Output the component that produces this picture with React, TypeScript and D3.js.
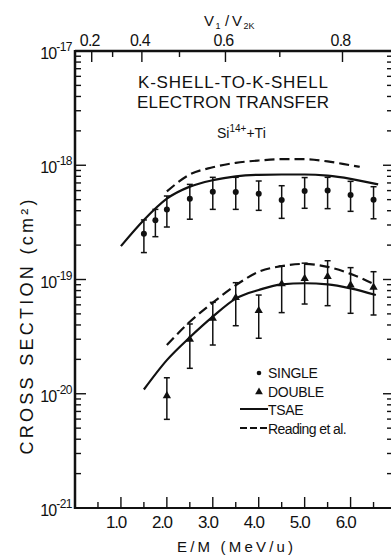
import React from "react";
import * as d3 from "d3";

// measured points, E/M in MeV/u and cross sections in cm^2
// single K-K transfer (circles)
const singleE = [1.5, 1.75, 2.0, 2.5, 3.0, 3.5, 4.0, 4.5, 5.0, 5.5, 6.0, 6.5];
const singleSigma = [2.52e-19, 3.3e-19, 4.1e-19, 5.1e-19, 5.87e-19, 5.83e-19, 5.64e-19, 4.97e-19, 5.96e-19, 6.0e-19, 5.5e-19, 5.0e-19];
const singleHi = [3.32e-19, 4.11e-19, 5.38e-19, 6.8e-19, 7.84e-19, 7.84e-19, 7.28e-19, 6.62e-19, 7.8e-19, 7.84e-19, 7.23e-19, 6.49e-19];
const singleLo = [1.72e-19, 2.37e-19, 2.88e-19, 3.37e-19, 4.11e-19, 4.11e-19, 4.03e-19, 3.43e-19, 4.2e-19, 4.17e-19, 3.95e-19, 3.4e-19];

// double K-K transfer (triangles)
const doubleE = [2.0, 2.5, 3.0, 3.5, 4.0, 4.5, 5.0, 5.5, 6.0, 6.5];
const doubleSigma = [9.6e-21, 2.99e-20, 4.56e-20, 6.93e-20, 5.33e-20, 9.14e-20, 1.02e-19, 1.06e-19, 8.95e-20, 8.54e-20];
const doubleHi = [1.38e-20, 4.08e-20, 6.31e-20, 9.38e-20, 7.31e-20, 1.31e-19, 1.39e-19, 1.46e-19, 1.27e-19, 1.17e-19];
const doubleLo = [5.97e-21, 1.67e-20, 2.67e-20, 3.94e-20, 3.06e-20, 5.13e-20, 6.1e-20, 5.9e-20, 5.06e-20, 4.89e-20];

// theory curves
const tsaeSingleE = [1.0, 1.5, 2.0, 2.5, 3.0, 3.5, 4.0, 4.5, 5.0, 5.5, 6.0, 6.6];
const tsaeSingleSigma = [1.96e-19, 3.32e-19, 5.1e-19, 6.5e-19, 7.4e-19, 8.0e-19, 8.25e-19, 8.3e-19, 8.3e-19, 8.1e-19, 7.6e-19, 6.8e-19];
const readingSingleE = [2.0, 2.5, 3.0, 3.5, 4.0, 4.5, 5.0, 5.5, 6.0, 6.2];
const readingSingleSigma = [5.9e-19, 8.3e-19, 9.6e-19, 1.05e-18, 1.1e-18, 1.13e-18, 1.13e-18, 1.08e-18, 1.0e-18, 9.7e-19];
const tsaeDoubleE = [1.5, 2.0, 2.5, 3.0, 3.5, 4.0, 4.5, 5.0, 5.5, 6.0, 6.55];
const tsaeDoubleSigma = [1.09e-20, 1.97e-20, 3.12e-20, 4.73e-20, 6.8e-20, 8.09e-20, 9.08e-20, 9.27e-20, 9.08e-20, 8.37e-20, 7.31e-20];
const readingDoubleE = [2.0, 2.5, 3.0, 3.5, 4.0, 4.5, 5.0, 5.5, 6.0, 6.55];
const readingDoubleSigma = [2.67e-20, 4.27e-20, 6.27e-20, 8.9e-20, 1.17e-19, 1.31e-19, 1.37e-19, 1.29e-19, 1.12e-19, 8.95e-20];

// ticks
const bottomMajor = [1, 2, 3, 4, 5, 6];
const bottomMinor = [0.5, 1.5, 2.5, 3.5, 4.5, 5.5, 6.5];
const bottomLabels = ["1.0", "2.0", "3.0", "4.0", "5.0", "6.0"];
const topMajor = [0.2, 0.4, 0.6, 0.8];
const topMinor = [0.3, 0.5, 0.7];
const topLabels = ["0.2", "0.4", "0.6", "0.8"];
const decadeExps = [-17, -18, -19, -20, -21];

const font = "'Liberation Sans', Arial, sans-serif";

export default function App() {
  const W = 391;
  const H = 556;
  const eMax = 6.88;
  // E/M (MeV/u) is about K * (v1/v2K)^2 for the top axis
  const K = 9.1;

  const x = d3.scaleLinear().domain([0, eMax]).range([75, 391]);
  const y = d3.scaleLog().domain([1e-21, 1e-17]).range([508, 51]);
  const xTop = d3.scalePow().exponent(2).domain([0, Math.sqrt(eMax / K)]).range([75, 391]);

  const [x0, x1] = x.range();
  const [yBot, yTop] = y.range();

  const line = d3
    .line<[number, number]>()
    .x((d) => x(d[0]))
    .y((d) => y(d[1]))
    .curve(d3.curveMonotoneX);

  const zip = (a: number[], b: number[]) => a.map((v, i) => [v, b[i]] as [number, number]);

  // minor ticks on the log axis
  const minorY: number[] = [];
  for (let e = -21; e < -17; e++) {
    for (let m = 2; m <= 9; m++) minorY.push(m * Math.pow(10, e));
  }

  const tri = d3.symbol(d3.symbolTriangle, 30)();
  const triSmall = d3.symbol(d3.symbolTriangle, 26)();

  const errorBar = (e: number, lo: number, hi: number, key: string) => (
    <g key={key} stroke="#111" strokeWidth={1.5}>
      <line x1={x(e)} x2={x(e)} y1={y(hi)} y2={y(lo)} />
      <line x1={x(e) - 3} x2={x(e) + 3} y1={y(hi)} y2={y(hi)} />
      <line x1={x(e) - 3} x2={x(e) + 3} y1={y(lo)} y2={y(lo)} />
    </g>
  );

  return (
    <svg width={W} height={H} style={{ position: "absolute", left: 0, top: 0, background: "#fff" }} fontFamily={font}>
      <rect width={W} height={H} fill="#fff" />

      {/* frame (right edge falls just outside the picture) */}
      <g stroke="#111" fill="none">
        <line x1={x0} x2={x0} y1={yTop - 1} y2={yBot + 1} strokeWidth={2.5} />
        <line x1={x0} x2={x1} y1={yBot} y2={yBot} strokeWidth={2} />
        <line x1={x0} x2={x1} y1={yTop} y2={yTop} strokeWidth={2.5} />
      </g>

      {/* left / right log ticks */}
      <g stroke="#111" strokeWidth={1.4}>
        {decadeExps.slice(1, -1).map((e) => (
          <g key={"d" + e}>
            <line x1={x0} x2={x0 + 11} y1={y(Math.pow(10, e))} y2={y(Math.pow(10, e))} />
            <line x1={x1} x2={x1 - 8} y1={y(Math.pow(10, e))} y2={y(Math.pow(10, e))} />
          </g>
        ))}
        {minorY.map((v, i) => (
          <g key={"m" + i}>
            <line x1={x0} x2={x0 + 6} y1={y(v)} y2={y(v)} />
            <line x1={x1} x2={x1 - 4} y1={y(v)} y2={y(v)} />
          </g>
        ))}
      </g>

      {/* bottom ticks */}
      <g stroke="#111" strokeWidth={1.4}>
        {bottomMajor.map((e) => (
          <line key={"bM" + e} x1={x(e)} x2={x(e)} y1={yBot} y2={yBot - 11} />
        ))}
        {bottomMinor.map((e) => (
          <line key={"bm" + e} x1={x(e)} x2={x(e)} y1={yBot} y2={yBot - 6} />
        ))}
      </g>
      <g fontSize={17} textAnchor="middle" letterSpacing={-1.3} fill="#111">
        {bottomMajor.map((e, i) => (
          <text key={"bl" + e} x={x(e) - 5} y={528}>
            {bottomLabels[i]}
          </text>
        ))}
      </g>
      <text x={235} y={552} fontSize={15} textAnchor="middle" textLength={116} lengthAdjust="spacing" fill="#111">
        E/M (MeV/u)
      </text>

      {/* top velocity axis */}
      <g stroke="#111" strokeWidth={1.4}>
        {topMajor.map((v) => (
          <line key={"tM" + v} x1={xTop(v)} x2={xTop(v)} y1={yTop} y2={yTop + 11} />
        ))}
        {topMinor.map((v) => (
          <line key={"tm" + v} x1={xTop(v)} x2={xTop(v)} y1={yTop} y2={yTop + 6} />
        ))}
      </g>
      <g fontSize={16} textAnchor="middle" letterSpacing={-0.8} fill="#111">
        {topMajor.map((v, i) => (
          <text key={"tl" + v} x={xTop(v) - 2} y={46}>
            {topLabels[i]}
          </text>
        ))}
      </g>
      <g fill="#111">
        <text x={204} y={25.5} fontSize={15}>V</text>
        <text x={215.5} y={29} fontSize={9}>1</text>
        <text x={225} y={25.5} fontSize={15}>/</text>
        <text x={232} y={25.5} fontSize={15}>V</text>
        <text x={243.5} y={29} fontSize={9}>2K</text>
      </g>

      {/* y decade labels */}
      <g fill="#111" textAnchor="end">
        {decadeExps.map((e) => (
          <text key={"yl" + e} x={72} y={y(Math.pow(10, e)) + 8} fontSize={16} letterSpacing={-1}>
            10
            <tspan fontSize={12} dy={-8} letterSpacing={-0.5}>
              {String(e)}
            </tspan>
          </text>
        ))}
      </g>
      <text
        transform="translate(33,327) rotate(-90)"
        fontSize={18}
        textAnchor="middle"
        textLength={255}
        lengthAdjust="spacing"
        fill="#111"
      >
        CROSS SECTION (cm²)
      </text>

      {/* title */}
      <g fill="#111" fontSize={17} textAnchor="middle">
        <text x={233} y={88} textLength={190} lengthAdjust="spacing">
          K-SHELL-TO-K-SHELL
        </text>
        <text x={233} y={108} textLength={192} lengthAdjust="spacing">
          ELECTRON  TRANSFER
        </text>
      </g>
      <text x={217} y={138} fontSize={14} fill="#111">
        Si<tspan fontSize={10} dy={-6}>14+</tspan>
        <tspan dy={6}>+Ti</tspan>
      </text>

      {/* theory curves */}
      <g fill="none" stroke="#111" strokeWidth={2.2}>
        <path d={line(zip(tsaeSingleE, tsaeSingleSigma)) || ""} />
        <path d={line(zip(tsaeDoubleE, tsaeDoubleSigma)) || ""} />
        <path d={line(zip(readingSingleE, readingSingleSigma)) || ""} strokeDasharray="10 5" />
        <path d={line(zip(readingDoubleE, readingDoubleSigma)) || ""} strokeDasharray="10 5" />
      </g>

      {/* single data */}
      {singleE.map((e, i) => errorBar(e, singleLo[i], singleHi[i], "se" + i))}
      {singleE.map((e, i) => (
        <circle key={"sc" + i} cx={x(e)} cy={y(singleSigma[i])} r={3} fill="#111" />
      ))}

      {/* double data */}
      {doubleE.map((e, i) => errorBar(e, doubleLo[i], doubleHi[i], "de" + i))}
      {doubleE.map((e, i) => (
        <path key={"dt" + i} d={tri || ""} transform={`translate(${x(e)},${y(doubleSigma[i])})`} fill="#111" />
      ))}

      {/* legend */}
      <g fill="#111" fontSize={14} letterSpacing={-0.3}>
        <circle cx={259} cy={373} r={2.3} />
        <text x={268} y={378}>SINGLE</text>
        <path d={triSmall || ""} transform="translate(259,392)" />
        <text x={268} y={397}>DOUBLE</text>
        <line x1={240} x2={268} y1={409} y2={409} stroke="#111" strokeWidth={2} />
        <text x={268} y={415}>TSAE</text>
        <line x1={240} x2={268} y1={428} y2={428} stroke="#111" strokeWidth={2} strokeDasharray="7 3" />
        <text x={268} y={434} letterSpacing={-0.6}>
          Reading et al.
        </text>
      </g>
    </svg>
  );
}
